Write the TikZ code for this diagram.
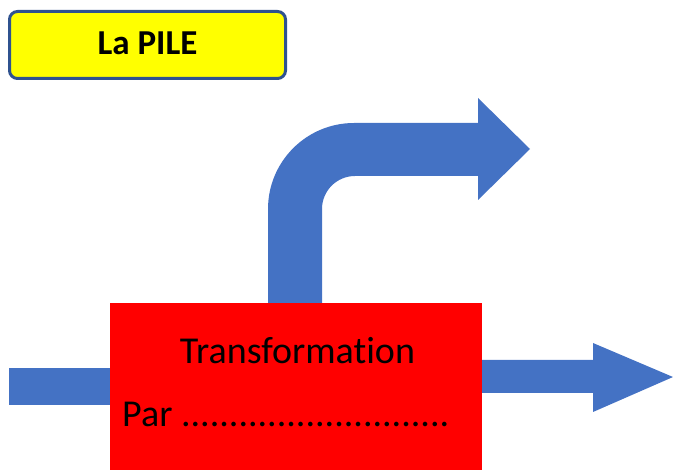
\documentclass[tikz,border=0pt]{standalone}
\usepackage{fontspec}
\setmainfont{Carlito}[Ligatures=NoCommon]
\usepackage{tikz}

\definecolor{flowblue}{HTML}{4472C4}
\definecolor{framered}{HTML}{FF0000}
\definecolor{tagyellow}{HTML}{FFFF00}
\definecolor{tagborder}{HTML}{2F528F}

\tikzset{
	flow/.style={fill=flowblue},
	bigtext/.style={inner sep=0pt,font=\fontsize{38}{41}\selectfont}
}

\begin{document}
\begin{tikzpicture}[x=1pt,y=-1pt]
					\useasboundingbox (0,0) rectangle (673,470);
					\fill[flow] (9,368) rectangle (110,405);
					\fill[flow] (482,360) -- (593,360) -- (593,343) -- (673,377) -- (593,412) -- (593,393) -- (482,393) -- cycle;
					\fill[flow] (268,303) -- (268,209) arc[start angle=180,end angle=90,radius=86pt] -- (478,123) -- (478,98) -- (530,149) -- (478,200) -- (478,176) -- (355,176) arc[start angle=90,end angle=180,radius=33pt] -- (322,303) -- cycle;
					\tikzstyle{every node}=[];
					\path (296,386.5) node[fill=framered,minimum width=372pt,minimum height=167pt,inner sep=0pt] (transfo) {};
					\path (297.5,364) node[bigtext,anchor=base] (v0) {Transformation};
					\path (122,427) node[bigtext,anchor=base west] (v1) {Par ............................};
					\path (147.5,45) node[draw=tagborder,line width=3pt,fill=tagyellow,rounded corners=8pt,minimum width=276pt,minimum height=67pt] (pile) {};
					\path (147.5,55) node[inner sep=0pt,anchor=base,font=\bfseries\fontsize{35}{38}\selectfont] (v2) {La PILE};
\end{tikzpicture}
\end{document}
